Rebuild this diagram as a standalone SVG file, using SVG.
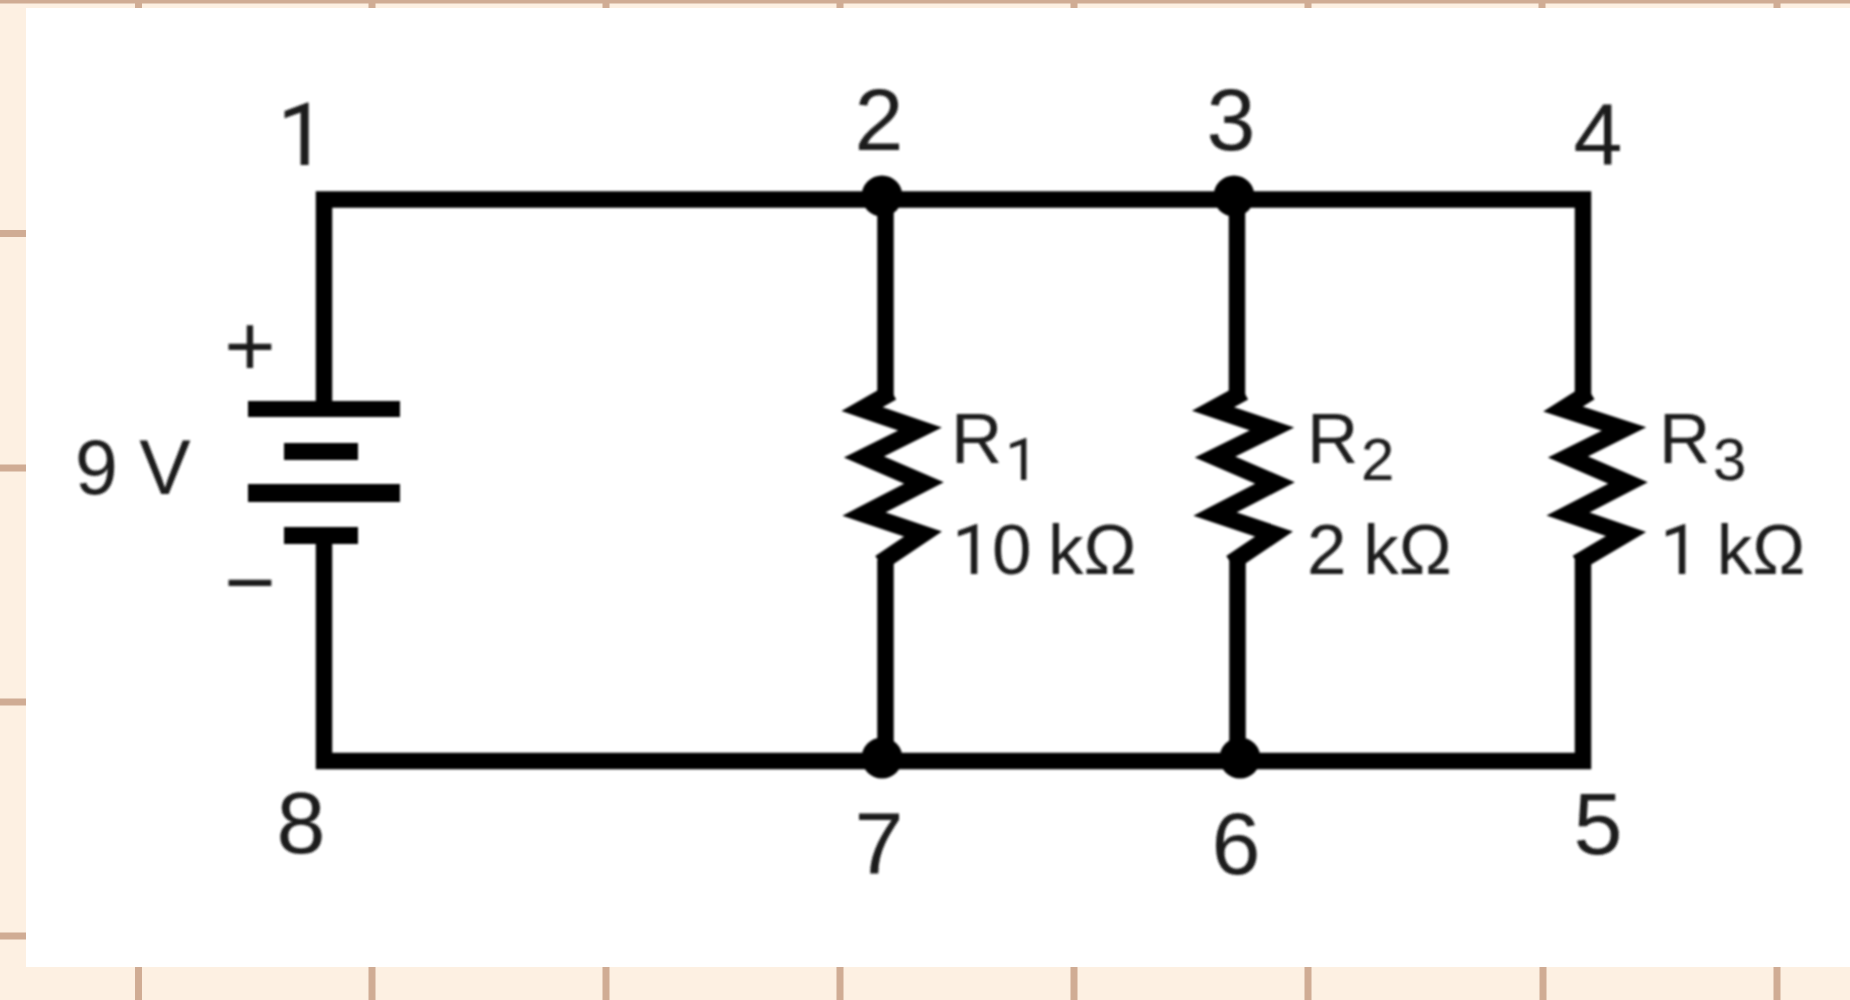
<svg xmlns="http://www.w3.org/2000/svg" width="1850" height="1000" viewBox="0 0 1850 1000">
<style>
text{font-family:"Liberation Sans",Arial,sans-serif;fill:#1a1a1a}
.o{font-family:Roboto,"Liberation Sans",sans-serif}
.n{font-size:88px;text-anchor:middle}
.l{font-size:71px;word-spacing:-3px}
.s{font-size:60px}
.w{fill:none;stroke:#000;stroke-width:16.500;stroke-linejoin:miter;stroke-miterlimit:8}
.r{fill:none;stroke:#000;stroke-width:17;stroke-linejoin:miter;stroke-miterlimit:8}
.t{stroke:#d0ac94;stroke-width:7}
</style>
<defs><filter id="soft" x="0" y="0" width="100%" height="100%"><feGaussianBlur stdDeviation="0.9"/></filter></defs>
<rect width="1850" height="1000" fill="#fdf0e2"/>
<g id="frame">
<rect x="0" y="0" width="1850" height="3.500" fill="#d0ac94"/>
<path class="t" d="M138.500 0V9M372 0V9M606 0V9M840 0V9M1074 0V9M1308 0V9M1542 0V9M1777 0V9"/>
<path class="t" d="M138.500 967V1000M372 967V1000M606 967V1000M840 967V1000M1074 967V1000M1308 967V1000M1543 967V1000M1777 967V1000"/>
<path class="t" d="M0 233.500H26M0 468H26M0 702H26M0 936H26"/>
<rect x="26" y="8" width="1824" height="959" fill="#fff"/>
</g>
<g filter="url(#soft)">
<g id="connectors">
<path class="w" d="M324 403V199.500H1583V395"/>
<path class="w" d="M324 540V761H1583V560"/>
<path class="w" d="M885.500 199.500V395M885.500 560V761"/>
<path class="w" d="M1237 199.500V395M1237.500 560V761"/>
</g>
<g id="battery">
<rect x="248" y="401" width="152" height="16"/>
<rect x="284" y="443" width="74" height="17"/>
<rect x="248" y="484" width="152" height="18"/>
<rect x="284" y="527" width="74" height="17"/>
<text class="n" x="250" y="376">+</text>
<text class="n" x="250" y="612">−</text>
<text x="75" y="494" style="font-size:77px">9 V</text>
</g>
<g id="R1">
<path class="r" d="M892 392L862 409L920 429L864 457L924 483L864 514L923 534L880 563"/>
<text class="l" x="951" y="463">R</text><text class="s o" x="1005" y="480">1</text>
<text class="l" x="952" y="574"><tspan class="o">1</tspan>0 kΩ</text>
</g>
<g id="R2">
<path class="r" d="M1244 392L1213 409L1272 429L1215 457L1275 483L1215 514L1274 534L1231 563"/>
<text class="l" x="1307" y="463">R</text><text class="s" x="1361" y="480">2</text>
<text class="l" x="1307" y="574">2 kΩ</text>
</g>
<g id="R3">
<path class="r" d="M1590 392L1563 409L1624 429L1568 457L1628 483L1568 514L1626 534L1577 563"/>
<text class="l" x="1659" y="463">R</text><text class="s" x="1713" y="480">3</text>
<text class="l" x="1660" y="574"><tspan class="o">1</tspan> kΩ</text>
</g>
<g id="dots">
<circle cx="882" cy="196" r="20.500"/><circle cx="1234" cy="196" r="20.500"/>
<circle cx="882" cy="758" r="20.500"/><circle cx="1240" cy="758" r="20.500"/>
</g>
<g id="labels">
<text class="n o" x="302" y="165">1</text>
<text class="n" x="879" y="150">2</text>
<text class="n" x="1231" y="150">3</text>
<text class="n" x="1598" y="165">4</text>
<text class="n" x="1598" y="854">5</text>
<text class="n" x="1236" y="874">6</text>
<text class="n" x="879" y="874">7</text>
<text class="n" x="301" y="853">8</text>
</g>
</g>
</svg>
